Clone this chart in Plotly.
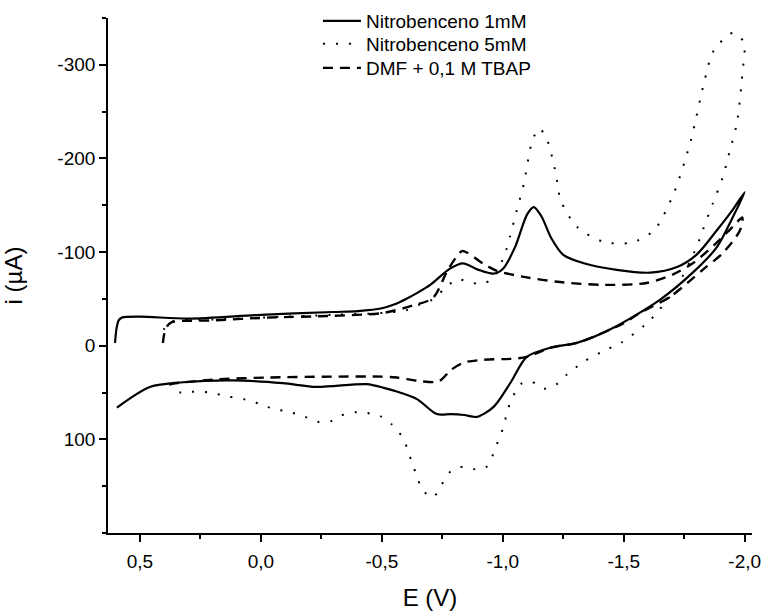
import plotly.graph_objects as go

# Nitrobenceno 1mM (solid)
E1 = [0.603, 0.597, 0.588, 0.575, 0.5, 0.3, 0.0, -0.3, -0.4, -0.5, -0.55, -0.6, -0.65, -0.7, -0.78, -0.835,
      -0.9, -0.96, -1.0, -1.05, -1.1, -1.128, -1.16, -1.2, -1.25, -1.335, -1.471, -1.61, -1.72, -1.80, -1.884,
      -1.95, -2.0,
      -1.95, -1.884, -1.785, -1.649, -1.455, -1.306, -1.198, -1.099, -1.033, -0.963, -0.893, -0.84, -0.785,
      -0.727, -0.645, -0.55, -0.508, -0.438, -0.231, -0.09, 0.116, 0.322, 0.459, 0.595]
i1 = [-3, -18, -27, -30, -31, -29, -33, -36, -37, -40, -44, -50, -57, -65, -82, -88,
      -81, -77, -82, -105, -140, -148, -138, -115, -97, -88, -81, -78, -84, -97, -123,
      -145, -164,
      -137, -105, -78, -49, -19, -3, 2, 12, 39, 65, 76, 74, 73,
      73, 57, 48, 45, 41, 44, 40, 37, 39, 44, 66]

# Nitrobenceno 5mM (dotted)
E2 = [0.405, 0.40, 0.38, 0.2, 0.0, -0.3, -0.504, -0.603, -0.657, -0.707, -0.756, -0.81, -0.86, -0.913,
      -0.963, -1.012, -1.029, -1.058, -1.087, -1.12, -1.149, -1.18, -1.219, -1.24, -1.306, -1.417, -1.529,
      -1.624, -1.707, -1.777, -1.831, -1.872, -1.95, -1.996, -1.99, -1.967, -1.938, -1.909, -1.868, -1.826,
      -1.80, -1.719, -1.636, -1.587, -1.488, -1.43, -1.335, -1.264, -1.223, -1.169, -1.116, -1.074, -1.037,
      -1.017, -1.004, -0.983, -0.963, -0.934, -0.888, -0.839, -0.785, -0.748, -0.711, -0.665, -0.645,
      -0.624, -0.607, -0.583, -0.541, -0.492, -0.397, -0.326, -0.285, -0.231, -0.174, -0.12, -0.066,
      -0.008, 0.037, 0.14, 0.21, 0.264, 0.326, 0.384]
i2 = [-3, -18, -25, -28, -30, -33, -35, -38, -44, -49, -60, -71, -68, -66,
      -73, -101, -116, -145, -173, -217, -232, -222, -184, -155, -127, -111, -110,
      -123, -163, -219, -280, -315, -334, -324, -290, -237, -208, -180, -152, -123,
      -105, -63, -35, -22, -3, 4, 17, 31, 41, 46, 38, 41, 57,
      71, 86, 100, 114, 129, 132, 129, 134, 148, 162, 153, 139,
      125, 111, 97, 84, 75, 71, 75, 81, 81, 75, 71, 68,
      64, 59, 54, 50, 49, 50, 50]

# DMF + 0,1 M TBAP (dashed)
E3 = [0.405, 0.40, 0.39, 0.37, 0.2, -0.025, -0.3, -0.504, -0.628, -0.711, -0.773, -0.831, -0.855, -0.917,
      -0.975, -1.099, -1.236, -1.413, -1.595, -1.702, -1.785, -1.884, -1.95, -1.99, -1.98, -1.909, -1.826,
      -1.69, -1.566, -1.5, -1.306, -1.198, -1.099, -1.033, -0.921, -0.839, -0.785, -0.736, -0.661, -0.562,
      -0.504, -0.298, -0.025, 0.182, 0.347, 0.39]
i3 = [-3, -12, -20, -25, -27, -30, -32, -35, -43, -51, -81, -101, -99, -88,
      -80, -73, -68, -65, -67, -76, -88, -110, -127, -137, -123, -99, -81,
      -52, -35, -24, -3, 2, 12, 14, 15, 18, 26, 38, 38, 34,
      33, 33, 34, 36, 40, 42]

names = ["Nitrobenceno 1mM", "Nitrobenceno 5mM", "DMF + 0,1 M TBAP"]

xticks = [0.5, 0.0, -0.5, -1.0, -1.5, -2.0]
xticklabels = ["0,5", "0,0", "-0,5", "-1,0", "-1,5", "-2,0"]
yticks = [-300, -200, -100, 0, 100]
yticklabels = ["-300", "-200", "-100", "0", "100"]

FONT = "Liberation Sans, Arial, sans-serif"

fig = go.Figure()
fig.add_trace(go.Scatter(x=E1, y=i1, mode="lines", name=names[0], legend="legend",
                         line=dict(color="black", width=2.2, shape="spline", smoothing=0.8)))
fig.add_trace(go.Scatter(x=E2, y=i2, mode="lines", name=names[1], legend="legend2",
                         line=dict(color="black", width=2, dash="2px,11px", shape="spline", smoothing=0.8)))
fig.add_trace(go.Scatter(x=E3, y=i3, mode="lines", name=names[2], legend="legend3",
                         line=dict(color="black", width=2.4, dash="10px,7px", shape="spline", smoothing=0.8)))

axis_common = dict(showline=True, linecolor="black", linewidth=1.6, ticks="outside", ticklen=7,
                   tickwidth=1.6, tickcolor="black", showgrid=False, zeroline=False, mirror=False,
                   automargin=False, tickfont=dict(family=FONT, size=19, color="black"))

H_TOP, H_BOT = 3, 81
paper_h = 614 - H_TOP - H_BOT
axis_top_px, axis_bot_px = 17, 533


def ypaper(px):
    return (axis_bot_px - px) / paper_h


leg_common = dict(x=0.326, xanchor="left", yanchor="middle", bgcolor="rgba(0,0,0,0)",
                  font=dict(family=FONT, size=19, color="black"), itemwidth=38)

fig.update_layout(
    width=768, height=614,
    margin=dict(l=108, r=16, t=H_TOP, b=H_BOT),
    paper_bgcolor="white", plot_bgcolor="white",
    font=dict(family=FONT, size=19, color="black"),
    showlegend=True,
    legend=dict(y=ypaper(21), **leg_common),
    legend2=dict(y=ypaper(44), **leg_common),
    legend3=dict(y=ypaper(68), **leg_common),
    xaxis=dict(range=[0.632, -2.03], tickvals=xticks, ticktext=xticklabels, ticklabelstandoff=3,
               minor=dict(ticks="outside", dtick=0.25, ticklen=4, tickwidth=1.6, tickcolor="black"),
               title=dict(text="E (V)", font=dict(family=FONT, size=24, color="black"), standoff=19),
               **axis_common),
    yaxis=dict(range=[200, -350], tickvals=yticks, ticktext=yticklabels,
               domain=[0, (axis_bot_px - axis_top_px) / paper_h],
               minor=dict(ticks="outside", dtick=50, ticklen=4, tickwidth=1.6, tickcolor="black"),
               title=dict(text="i (\u00b5A)", font=dict(family=FONT, size=24, color="black"), standoff=32),
               **axis_common),
)

fig.write_html("out.html")
